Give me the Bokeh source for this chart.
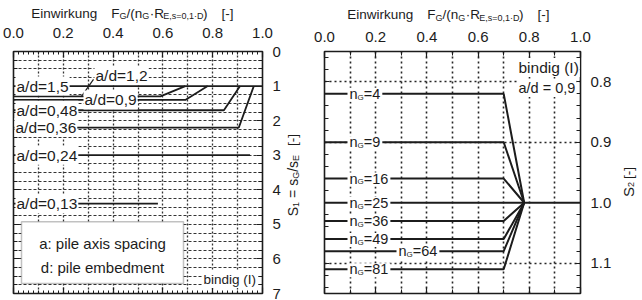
import math
from bokeh.plotting import figure
from bokeh.models import (Range1d, LinearAxis, FixedTicker, Grid, Label, BoxAnnotation,
                          PrintfTickFormatter, CustomJSTickFormatter, ColumnDataSource)
from bokeh.layouts import row, column
from bokeh.embed import file_html
from bokeh.resources import INLINE

# ---------------- data ----------------
# left chart: S1 = sG/sE versus load ratio, one curve per a/d
ad_labels = ["a/d=1,5", "a/d=1,2", "a/d=0,9", "a/d=0,48", "a/d=0,36", "a/d=0,24", "a/d=0,13"]
ad_s1_plateau = [1.0, 1.3, 1.4, 1.7, 2.2, 3.0, 4.4]
ad_x_break = [1.0, 0.59, 0.69, 0.845, 0.905, 0.95, 0.58]
ad_x_merge = [None, 0.69, 0.78, 0.91, 0.965, None, None]
ad_s1_merge = 1.0

# right chart: S2 versus load ratio, one curve per number of piles n_G
ng_values = [4, 9, 16, 25, 36, 49, 64, 81]
ng_s2_plateau = [0.82, 0.90, 0.96, 1.00, 1.03, 1.06, 1.08, 1.11]
ng_x_break = [0.70, 0.70, 0.70, 1.00, 0.70, 0.70, 0.70, 0.70]
ng_x_merge = [0.78, 0.78, 0.78, None, 0.78, 0.78, 0.78, 0.78]
ng_s2_merge = 1.0

x_tick_values = [0.0, 0.2, 0.4, 0.6, 0.8, 1.0]
s1_tick_values = [0, 1, 2, 3, 4, 5, 6, 7]
s2_tick_values = [0.8, 0.9, 1.0, 1.1]

# ---------------- style ----------------
FONT = "Liberation Sans"
INK = "#1c1c1c"
HEAD = 24  # height of the strip that carries the top titles

AW = {' ': 278, '(': 333, ')': 333, ',': 278, '-': 333, '.': 278, '/': 278, '=': 584,
      '[': 278, ']': 278, '\u00b7': 278, 'D': 722, 'E': 667, 'F': 611, 'G': 778, 'I': 278,
      'R': 722, 'S': 667, 'a': 556, 'b': 556, 'c': 500, 'd': 556, 'e': 556, 'g': 556,
      'i': 222, 'k': 500, 'l': 222, 'm': 833, 'n': 556, 'p': 556, 'r': 333, 's': 500,
      't': 278, 'u': 556, 'w': 722, 'x': 500}
for _d in "0123456789":
    AW[_d] = 556


def tw(s, size):
    return sum(AW.get(c, 556) for c in s) * size / 1000.0


# page-pixel -> data helpers
def X1(px): return (px - 13) / 249.0
def Y1(py): return (py - 50) / 243.0 * 7.0
def X2(px): return (px - 324) / 256.0
def Y2(py): return 0.75 + (py - 51) / 242.0 * 0.4


def add_run(p, pieces, x, y, vertical=False, color=INK):
    """pieces: (text, size, gap_px, shift_px). Anchor (x, y) = start of run, vertical centre."""
    pos = 0.0
    for text, size, gap, shift in pieces:
        pos += gap
        if vertical:
            lab = Label(x=x, y=y, x_offset=shift, y_offset=pos, angle=math.pi / 2, text=text,
                        text_font=FONT, text_font_size=f"{size}px", text_color=color,
                        text_align="left", text_baseline="middle")
        else:
            lab = Label(x=x, y=y, x_offset=pos, y_offset=-shift, text=text,
                        text_font=FONT, text_font_size=f"{size}px", text_color=color,
                        text_align="left", text_baseline="middle")
        p.add_layout(lab)
        pos += tw(text, size)
    return pos


def simple_label(p, text, x, y, size, bg=True, align="left"):
    kw = dict(background_fill_color="white", background_fill_alpha=1.0, padding=1) if bg else {}
    p.add_layout(Label(x=x, y=y, text=text, text_font=FONT,
                       text_font_size=f"{size}px", text_color=INK, text_align=align,
                       text_baseline="middle", **kw))


def make_axis(ticks, minor, fmt, major_in, minor_in, labels=True, standoff=8):
    ax = LinearAxis(ticker=FixedTicker(ticks=ticks, minor_ticks=minor),
                    major_tick_in=major_in, major_tick_out=0,
                    minor_tick_in=minor_in, minor_tick_out=0,
                    axis_line_color=None, major_tick_line_color=INK, minor_tick_line_color=INK,
                    major_tick_line_width=1.2, minor_tick_line_width=1)
    if labels:
        ax.formatter = PrintfTickFormatter(format=fmt)
        ax.major_label_text_font = FONT
        ax.major_label_text_font_size = "15px"
        ax.major_label_text_color = INK
        ax.major_label_standoff = standoff
    else:
        ax.formatter = CustomJSTickFormatter(code="return ''")
        ax.major_label_text_font_size = "1px"
        ax.major_label_standoff = 0
    return ax


def base_fig(width, height, xr, yr, bl, br, bt, bb, outline=True):
    p = figure(width=width, height=height, x_range=xr, y_range=yr,
               x_axis_location=None, y_axis_location=None, toolbar_location=None,
               output_backend="svg", min_border_left=bl, min_border_right=br,
               min_border_top=bt, min_border_bottom=bb)
    p.center = [c for c in p.center if not isinstance(c, Grid)]
    if outline:
        p.outline_line_color = INK
        p.outline_line_width = 1.6
        p.outline_line_alpha = 1.0
    else:
        p.outline_line_color = None
    p.background_fill_color = "white"
    p.border_fill_color = "white"
    return p


def curves(plateau, xb, xm, merge):
    xs, ys = [], []
    for s, b, m in zip(plateau, xb, xm):
        x = [0.0, b]
        y = [s, s]
        if m is not None:
            x.append(m)
            y.append(merge)
        xs.append(x)
        ys.append(y)
    return xs, ys


T, S = 13.5, 9
title_pieces = [("Einwirkung", T, 0, 0), ("F", T, 14, 0), ("G", S, 0, 3.0), ("/(n", T, 0, 0),
                ("G", S, 0, 3.0), ("\u00b7R", T, 0.5, 0), ("E,s=0,1\u00b7D", S, 0, 3.0),
                (")", T, 0, 0), ("[-]", T, 14, 0)]

# ================= header strip (titles above both charts) =================
head = base_fig(642, HEAD, Range1d(0, 642), Range1d(HEAD, 0), 0, 0, 0, 0, outline=False)
add_run(head, title_pieces, 30.7, 12.8)
add_run(head, title_pieces, 346.7, 14.0)

# ================= left chart =================
p1 = base_fig(284, 300 - HEAD, Range1d(0, 1), Range1d(7, 0), 13, 22, 50 - HEAD, 7)

xminor = [i / 50 for i in range(51)]
p1.add_layout(make_axis(x_tick_values, xminor, "%.1f", 6, 3, True, 14), "above")
p1.add_layout(make_axis(x_tick_values, xminor, "", 6, 3, False), "below")
s1minor = [i / 4 for i in range(29)]
p1.add_layout(make_axis(s1_tick_values, s1minor, "%d", 6, 4, True, 10), "right")
p1.add_layout(make_axis(s1_tick_values, s1minor, "", 6, 4, False), "left")

p1.add_layout(Grid(dimension=1, ticker=FixedTicker(ticks=[i / 4 for i in range(1, 28)]),
                   grid_line_color="#333333", grid_line_width=1, grid_line_dash="3 2"))
p1.add_layout(Grid(dimension=0, ticker=FixedTicker(ticks=[i / 10 for i in range(1, 10)]),
                   grid_line_color="#333333", grid_line_width=1.3, grid_line_dash="2 2"))

xs1, ys1 = curves(ad_s1_plateau, ad_x_break, ad_x_merge, ad_s1_merge)
p1.multi_line(xs="xs", ys="ys", source=ColumnDataSource(dict(xs=xs1, ys=ys1)),
              line_color=INK, line_width=1.8)

# leader from the a/d=1,2 label to its curve
p1.segment(x0=[X1(93)], y0=[Y1(78)], x1=[X1(81)], y1=[ad_s1_plateau[1]],
           line_color=INK, line_width=1.2)

ad_label_px = [15, 94, 83, 15, 14, 15, 15]
for i, (txt, s) in enumerate(zip(ad_labels, ad_s1_plateau)):
    ly = Y1(74) if i == 1 else s
    simple_label(p1, txt, X1(ad_label_px[i]), ly, 15.5)

# legend box
p1.add_layout(BoxAnnotation(left=X1(21), right=X1(183), top=Y1(221), bottom=Y1(283),
                            fill_color="white", fill_alpha=1.0, line_color="#333333",
                            line_width=1.5))
simple_label(p1, "a: pile axis spacing", X1(102), Y1(243), 15, bg=False, align="center")
simple_label(p1, "d: pile embedment", X1(102), Y1(266.5), 15, bg=False, align="center")
simple_label(p1, "bindig (I)", X1(202), Y1(279), 13.5)

# rotated title strip of the left chart
rot1 = base_fig(22, 300 - HEAD, Range1d(284, 306), Range1d(300, HEAD), 0, 0, 0, 0, outline=False)
add_run(rot1, [("S", 14, 0, 0), ("1", 9, 0, 3), ("=", 14, 4, 0), ("s", 14, 4, 0), ("G", 9, 0, 3),
               ("/s", 14, 0, 0), ("E", 9, 0, 3), ("[-]", 13.5, 9, 0)],
        292, 212, vertical=True)

# ================= right chart =================
p2 = base_fig(310, 300 - HEAD, Range1d(0, 1), Range1d(1.15, 0.75), 18, 36, 51 - HEAD, 7)

p2.add_layout(make_axis(x_tick_values, [i / 10 for i in range(11)], "%.1f", 6, 4, True, 10), "above")
p2.add_layout(make_axis(x_tick_values, [i / 10 for i in range(11)], "", 6, 4, False), "below")
s2minor = [0.76 + i * 0.02 for i in range(20)]
p2.add_layout(make_axis(s2_tick_values, s2minor, "%.1f", 5, 4, True, 10), "right")
p2.add_layout(make_axis(s2_tick_values, s2minor, "", 5, 4, False), "left")

p2.add_layout(Grid(dimension=0, ticker=FixedTicker(ticks=[i / 10 for i in range(1, 10)]),
                   grid_line_color="#262626", grid_line_width=1.6, grid_line_dash="2 3"))
p2.add_layout(Grid(dimension=1, ticker=FixedTicker(ticks=[0.8, 0.9, 1.1]),
                   grid_line_color="#262626", grid_line_width=1.6, grid_line_dash="2 3"))

xs2, ys2 = curves(ng_s2_plateau, ng_x_break, ng_x_merge, ng_s2_merge)
p2.multi_line(xs="xs", ys="ys", source=ColumnDataSource(dict(xs=xs2, ys=ys2)),
              line_color=INK, line_width=2)

K2 = 0.4 / 242.0
N, SG = 14.5, 8
for n, s in zip(ng_values, ng_s2_plateau):
    px0 = 398 if n == 64 else 349
    pieces = [("n", N, 0, 0), ("G", SG, 0, 3.3), ("=" + str(n), N, 0, 0)]
    w = sum(tw(t, sz) for t, sz, _, _ in pieces)
    p2.add_layout(BoxAnnotation(left=X2(px0 - 2), right=X2(px0 + w + 2), top=s - 6 * K2,
                                bottom=s + 8 * K2, fill_color="white", fill_alpha=1.0,
                                line_color=None))
    add_run(p2, pieces, X2(px0), s)

simple_label(p2, "bindig (I)", X2(517), Y2(67), 15.5)
simple_label(p2, "a/d = 0,9", X2(517), Y2(87.5), 14.5)

# rotated title strip of the right chart
rot2 = base_fig(26, 300 - HEAD, Range1d(616, 642), Range1d(300, HEAD), 0, 0, 0, 0, outline=False)
add_run(rot2, [("S", 15, 0, 0), ("2", 9, 0, 3), ("[-]", 13.5, 3, 0)], 627.5, 190, vertical=True)

layout = column(head, row(p1, rot1, p2, rot2))
open("out.html", "w").write(file_html(layout, INLINE))
